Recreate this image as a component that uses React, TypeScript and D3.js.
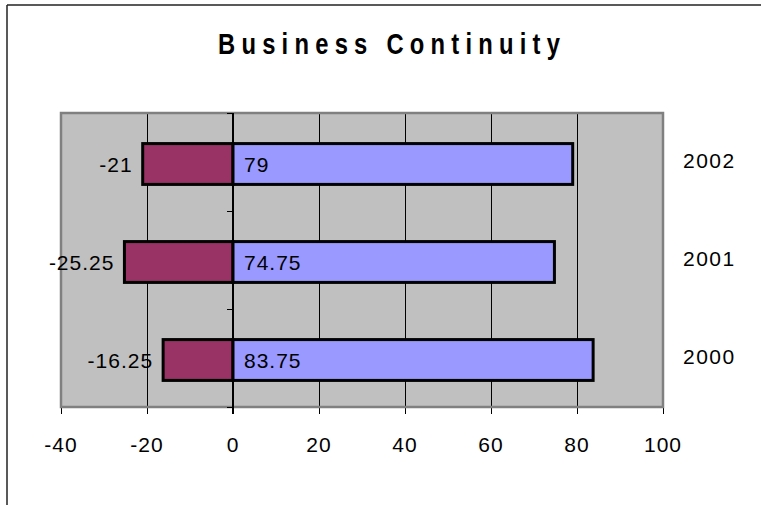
import React from "react";
import * as d3 from "d3";

const categories = ["2002", "2001", "2000"];
const negValues = [-21, -25.25, -16.25];
const posValues = [79, 74.75, 83.75];
const xTicks = [-40, -20, 0, 20, 40, 60, 80, 100];
const title = "Business Continuity";

const W = 761;
const H = 505;
const plot = { left: 61, right: 663, top: 113, bottom: 407 };
const FONT = "'Liberation Sans', Arial, sans-serif";

const crisp = (v: number) => Math.round(v) + 0.5;

export default function App() {
  const x = d3.scaleLinear().domain([-40, 100]).range([plot.left, plot.right]);
  const y = d3.scaleBand<string>().domain(categories).range([plot.top, plot.bottom]).padding(0);
  const step = y.step();
  const barH = step / 2.4;
  const barY = (c: string) => (y(c) as number) + step / 2 - barH / 2 + 2;
  const x0 = x(0);
  const titleScale = 0.82;

  return (
    <svg width={W} height={H} style={{ position: "absolute", left: 0, top: 0, background: "#fff" }}>
      {/* outer frame */}
      <line x1={7} y1={5} x2={W + 5} y2={5} stroke="#222" strokeWidth={1.5} />
      <line x1={7} y1={5} x2={7} y2={H + 5} stroke="#222" strokeWidth={1.5} />

      <g transform={`translate(389,54) scale(${titleScale},1)`}>
        <text
          x={0}
          y={0}
          textAnchor="middle"
          fontFamily={FONT}
          fontWeight="bold"
          fontSize={29}
          textLength={342 / titleScale}
          lengthAdjust="spacing"
        >
          {title}
        </text>
      </g>

      {/* plot background */}
      <rect x={plot.left} y={plot.top} width={plot.right - plot.left} height={plot.bottom - plot.top} fill="#C0C0C0" />

      {/* gridlines + ticks */}
      {xTicks.map((t) => (
        <line
          key={"g" + t}
          x1={crisp(x(t))}
          x2={crisp(x(t))}
          y1={t === -40 || t === 100 || t === 0 ? plot.bottom : plot.top}
          y2={plot.bottom + 7}
          stroke="#000"
          strokeWidth={1}
        />
      ))}

      {/* plot border */}
      <rect
        x={plot.left}
        y={plot.top}
        width={plot.right - plot.left}
        height={plot.bottom - plot.top}
        fill="none"
        stroke="#808080"
        strokeWidth={2.5}
      />

      {/* bars */}
      {categories.map((c, i) => (
        <g key={c}>
          <rect
            x={x(negValues[i])}
            y={barY(c)}
            width={x0 - x(negValues[i])}
            height={barH}
            fill="#993366"
            stroke="#000"
            strokeWidth={3}
          />
          <rect
            x={x0}
            y={barY(c)}
            width={x(posValues[i]) - x0}
            height={barH}
            fill="#9999FF"
            stroke="#000"
            strokeWidth={3}
          />
        </g>
      ))}

      {/* vertical axis at zero */}
      <line x1={Math.round(x0)} x2={Math.round(x0)} y1={plot.top} y2={plot.bottom + 7} stroke="#000" strokeWidth={2} />
      {[...categories.map((c) => y(c) as number), plot.bottom].map((v, i) => (
        <line key={"yt" + i} x1={x0 - 6} x2={x0} y1={crisp(v)} y2={crisp(v)} stroke="#000" strokeWidth={1} />
      ))}

      {/* value labels */}
      {categories.map((c, i) => (
        <g key={"l" + c} fontFamily={FONT} fontSize={21} letterSpacing={1}>
          <text x={x(negValues[i]) - 10} y={barY(c) + barH / 2} dy="0.36em" textAnchor="end">
            {String(negValues[i])}
          </text>
          <text x={x0 + 11} y={barY(c) + barH / 2} dy="0.36em" textAnchor="start">
            {String(posValues[i])}
          </text>
        </g>
      ))}

      {/* category labels at right */}
      {categories.map((c) => (
        <text
          key={"c" + c}
          x={683}
          y={(y(c) as number) + step / 2 - 2}
          dy="0.36em"
          fontFamily={FONT}
          fontSize={21}
          letterSpacing={1.5}
        >
          {c}
        </text>
      ))}

      {/* x tick labels */}
      {xTicks.map((t) => (
        <text
          key={"xl" + t}
          x={x(t)}
          y={452}
          textAnchor="middle"
          fontFamily={FONT}
          fontSize={21}
          letterSpacing={1}
        >
          {t < 0 ? "-" + Math.abs(t) : String(t)}
        </text>
      ))}
    </svg>
  );
}
